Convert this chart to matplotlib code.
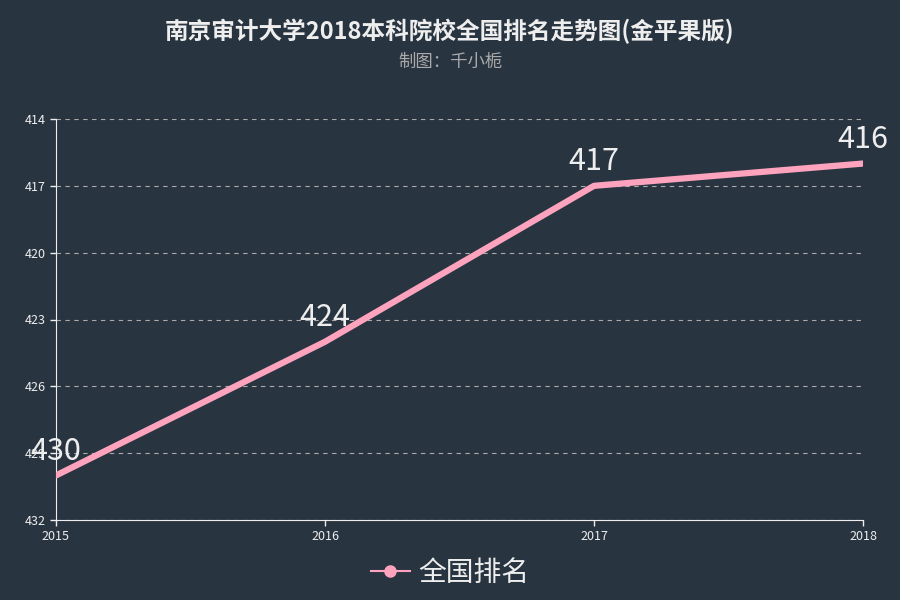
import matplotlib
matplotlib.use('Agg')
import matplotlib.pyplot as plt
from matplotlib.lines import Line2D

plt.rcParams['font.family'] = ['Noto Sans CJK SC', 'DejaVu Sans']

years = [2015, 2016, 2017, 2018]
ranks = [430, 424, 417, 416]
yticks = [414, 417, 420, 423, 426, 429, 432]

bg = '#293441'
pink = '#fea3be'

fig = plt.figure(figsize=(9, 6), dpi=100, facecolor=bg)
ax = fig.add_axes([0.0622, 0.1333, 0.8967, 0.6684], facecolor=bg)

ax.plot(years, ranks, color=pink, lw=4.5, solid_capstyle='round', zorder=3)
for x, y in zip(years, ranks):
    ax.annotate(str(y), (x, y), xytext=(0, 6), textcoords='offset points',
                ha='center', va='bottom', fontsize=22, color='#eeeeee', zorder=4)

ax.set_xlim(2015, 2018)
ax.set_ylim(432, 414)
ax.set_xticks(years)
ax.set_yticks(yticks)
ax.tick_params(colors='#eeeeee', labelsize=9, length=4, width=1)
ax.grid(axis='y', linestyle=(0, (4, 4)), color='#aaaaaa', lw=0.8)
for s in ['top', 'right']:
    ax.spines[s].set_visible(False)
for s in ['left', 'bottom']:
    ax.spines[s].set_color('#eeeeee')

fig.text(0.5, 0.948, '南京审计大学2018本科院校全国排名走势图(金平果版)', ha='center', va='center',
         fontsize=17, fontweight='bold', color='#eeeeee')
fig.text(0.5, 0.897, '制图：千小栀', ha='center', va='center', fontsize=12.5, color='#aaaaaa')

handle = Line2D([], [], color=pink, lw=1.5, marker='o', markersize=8)
fig.legend([handle], ['全国排名'], loc='center', bbox_to_anchor=(0.5, 0.045), frameon=False,
           fontsize=20, labelcolor='#eeeeee', handlelength=1.4, handletextpad=0.3)

fig.savefig('out.png', facecolor=bg)
